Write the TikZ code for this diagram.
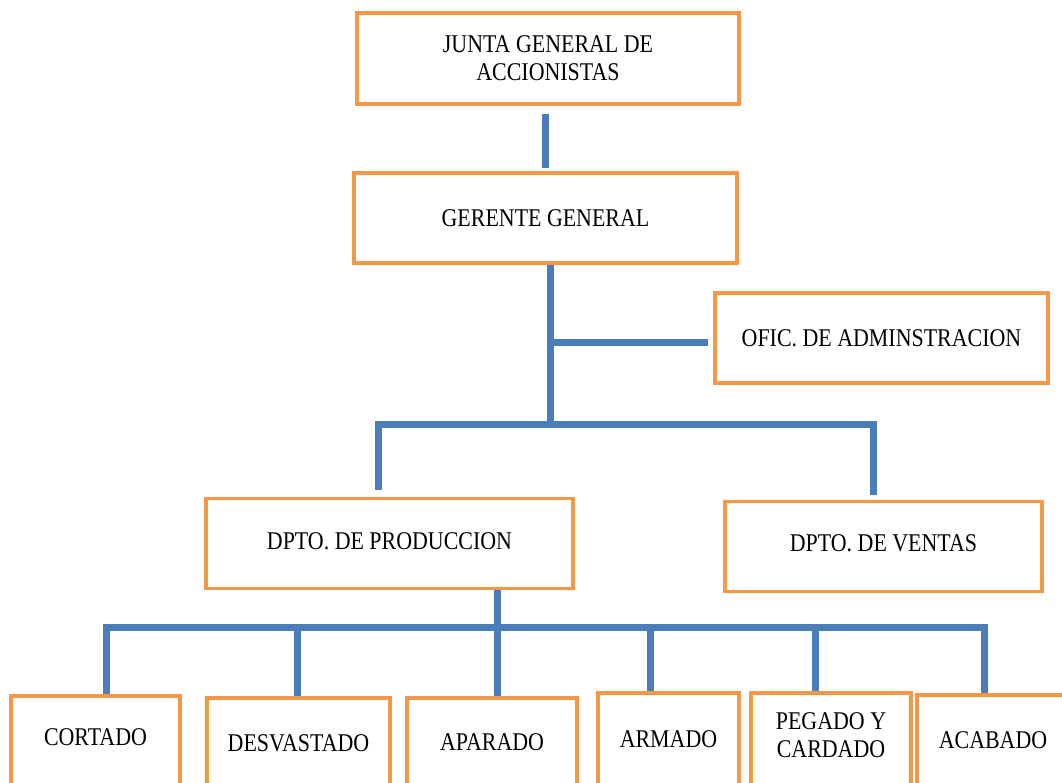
\documentclass[tikz,border=0pt]{standalone}
\usepackage{fontspec}
\setmainfont{Liberation Serif}[FakeStretch=0.86]
\definecolor{boxorange}{HTML}{F79646}
\definecolor{linkblue}{HTML}{4A7EBB}
\begin{document}
\begin{tikzpicture}[x=1pt,y=-1pt,
  orgbox/.style={draw=boxorange, line width=3.5pt, rectangle, inner sep=0pt,
    align=center, font=\fontsize{25.5}{28}\selectfont, text=black},
  conn/.style={draw=linkblue, line width=7pt, line join=miter}]
\useasboundingbox (0,0) rectangle (1062,782);
\clip (0,0) rectangle (1062,782);
% boxes
\node[orgbox, minimum width=382, minimum height=91] (junta) at (548,58.5) {JUNTA GENERAL DE\\ACCIONISTAS};
\node[orgbox, minimum width=383, minimum height=90] (ger) at (545.5,218) {GERENTE GENERAL};
\node[orgbox, minimum width=333, minimum height=90] (ofic) at (881.5,338) {OFIC. DE ADMINSTRACION};
\node[orgbox, minimum width=367, minimum height=90, text depth=5pt] (prod) at (389.5,543.5) {DPTO. DE PRODUCCION};
\node[orgbox, minimum width=317, minimum height=90, text depth=7pt] (ventas) at (883.5,546.5) {DPTO. DE VENTAS};
\node[orgbox, minimum width=169, minimum height=110, text depth=27pt] (cort) at (95.5,751) {CORTADO};
\node[orgbox, minimum width=183, minimum height=110, text depth=20pt] (desv) at (298.5,753) {DESVASTADO};
\node[orgbox, minimum width=170, minimum height=110, text depth=22pt] (apar) at (492,753) {APARADO};
\node[orgbox, minimum width=141, minimum height=110, text depth=18pt] (arm) at (668.5,748) {ARMADO};
\node[orgbox, minimum width=160, minimum height=110, text depth=26pt] (peg) at (831,748) {PEGADO Y\\CARDADO};
\node[orgbox, minimum width=152, minimum height=110, text depth=20pt] (acab) at (993,750) {ACABADO};
% helper coordinates
\coordinate (bus1) at (550,424);
\coordinate (bus2) at (497,627);
\coordinate (gerout) at ([xshift=4.5pt]ger.south);
\coordinate (oficin) at ([yshift=-4pt]ofic.west);
\coordinate (prodin) at ([xshift=-11.5pt]prod.north);
\coordinate (ventin) at ([xshift=-10.5pt]ventas.north);
\coordinate (cortin) at ([xshift=10.5pt]cort.north);
\coordinate (desvin) at ([xshift=-1.5pt]desv.north);
\coordinate (aparin) at ([xshift=5pt]apar.north);
\coordinate (armin) at ([xshift=-18.5pt]arm.north);
\coordinate (pegin) at ([xshift=-16pt]peg.north);
\coordinate (acabin) at ([xshift=-9pt]acab.north);
% connectors
\draw[conn, shorten <=8pt, shorten >=3pt] (junta.south -| ger.north) -- (ger.north);
\draw[conn] (gerout) -- (gerout |- bus1);
\draw[conn, shorten <=5pt] (oficin) -- (oficin -| bus1);
\draw[conn, shorten <=7pt, shorten >=5pt] (prodin) |- (bus1) -| (ventin);
\draw[conn] (aparin |- prod.south) -- (aparin);
\draw[conn] (cortin) |- (bus2) -| (acabin);
\draw[conn] (desvin |- bus2) -- (desvin);
\draw[conn] (armin |- bus2) -- (armin);
\draw[conn] (pegin |- bus2) -- (pegin);
\end{tikzpicture}
\end{document}
